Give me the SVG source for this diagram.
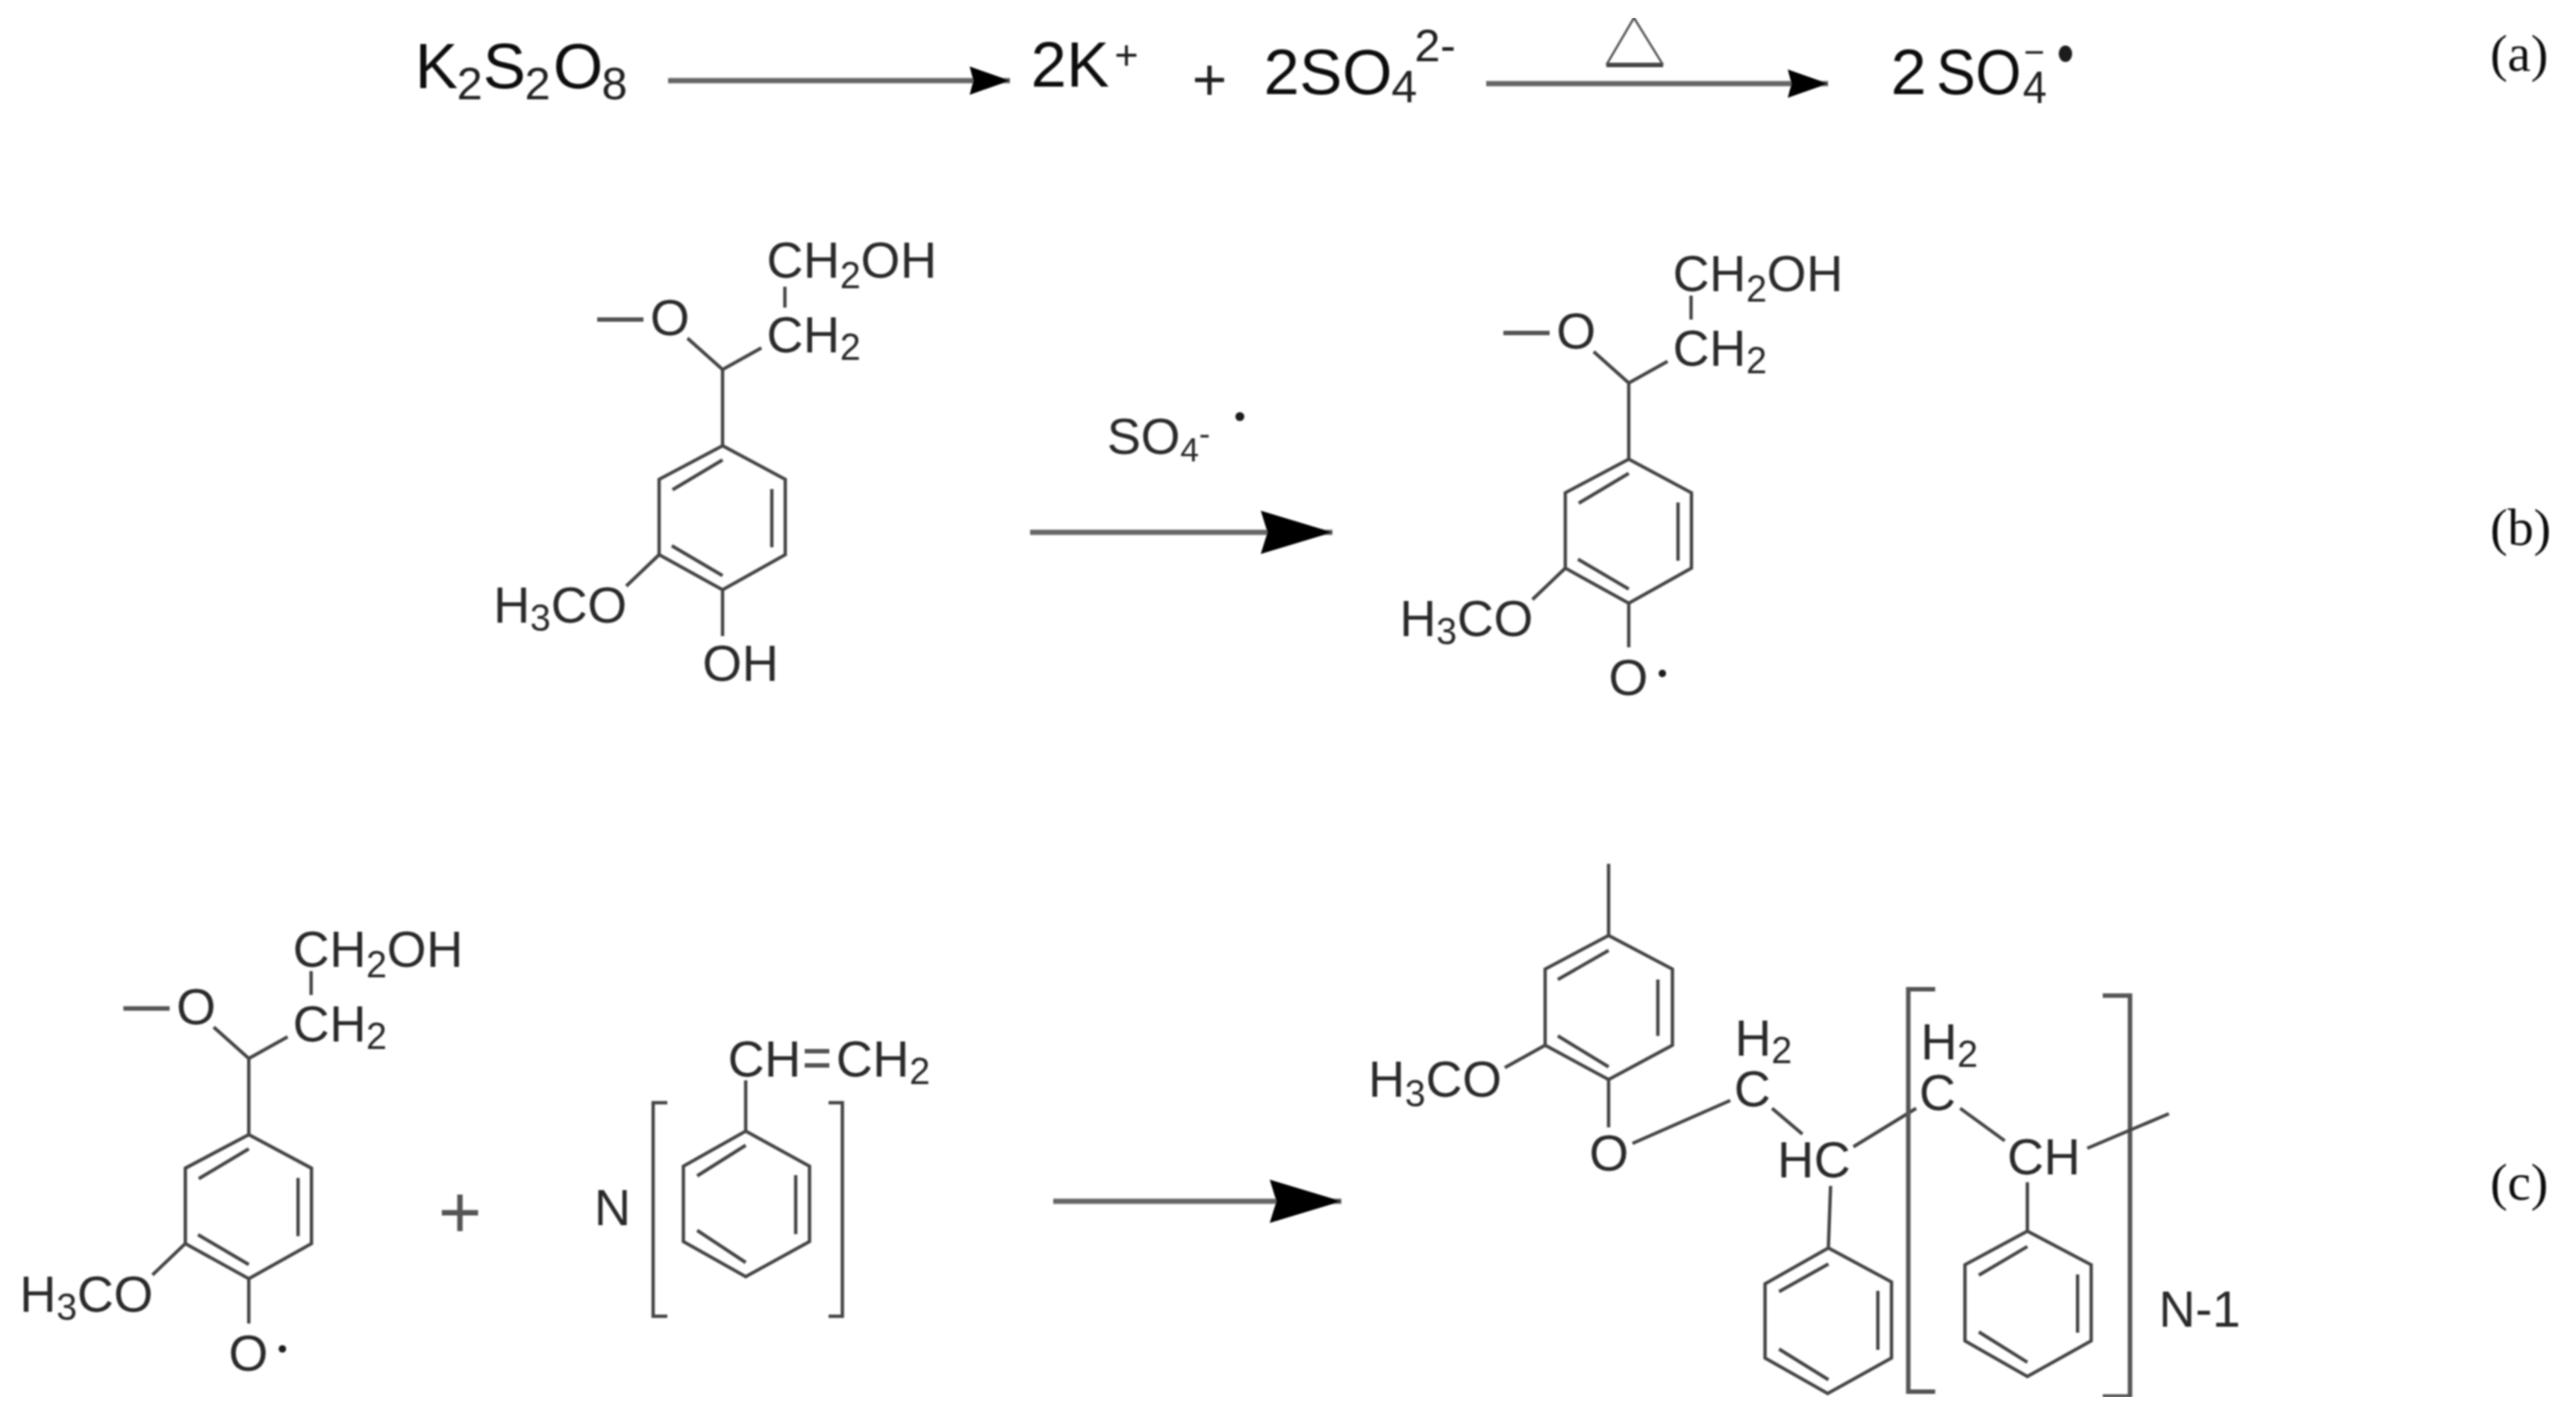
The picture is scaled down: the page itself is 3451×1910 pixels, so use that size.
<svg xmlns="http://www.w3.org/2000/svg" width="3451" height="1910" viewBox="0 0 3451 1910">
<style>
text{font-family:"Liberation Sans",Arial,sans-serif;fill:#2a2a2a}
.f{font-size:68px}.s{font-size:50px}.a{font-size:86px;fill:#111}.as{font-size:62px;fill:#222}
.t{font-family:"Liberation Serif","Times New Roman",serif;font-size:70px;fill:#111}
.b{fill:none;stroke:#444;stroke-width:4.500;stroke-linecap:butt;stroke-linejoin:miter}
.bt{fill:none;stroke:#555;stroke-width:6}
.ar{fill:none;stroke:#666;stroke-width:7}
.d{fill:#1a1a1a}
#all{filter:url(#soft)}
</style>
<defs>
<filter id="soft" x="0" y="0" width="100%" height="100%"><feGaussianBlur stdDeviation="1"/></filter>
<marker id="h1" markerUnits="userSpaceOnUse" markerWidth="60" markerHeight="40" refX="54" refY="19" orient="auto"><path d="M0 0L54 19L0 38L5 19Z" fill="#000"/></marker>
<marker id="h2" markerUnits="userSpaceOnUse" markerWidth="110" markerHeight="62" refX="96" refY="29" orient="auto"><path d="M0 0L96 29L0 58L9 29Z" fill="#000"/></marker>
</defs>
<rect width="3451" height="1910" fill="#fff"/>
<g id="all">
<g id="connectors">
<path class="ar" d="M895 108H1353" marker-end="url(#h1)"/>
<path class="ar" d="M1991 112H2449" marker-end="url(#h1)"/>
<path class="ar" d="M1380 713H1785" marker-end="url(#h2)"/>
<path class="ar" d="M1411 1609H1797" marker-end="url(#h2)"/>
</g>

<g id="persulfate"><text class="a" y="118"><tspan x="556">K</tspan><tspan class="as" x="612" y="133">2</tspan><tspan x="647" y="118">S</tspan><tspan class="as" x="703" y="133">2</tspan><tspan x="741" y="118">O</tspan><tspan class="as" x="806" y="133">8</tspan></text></g>
<g id="potassium-ion"><text class="a" y="116"><tspan x="1381">2K</tspan></text><text x="1493" y="93" style="font-size:55px;fill:#222">+</text></g>
<g id="plus-a"><text x="1597" y="134" style="font-size:80px;fill:#222">+</text></g>
<g id="sulfate-ion"><text class="a" y="126"><tspan x="1693">2SO</tspan><tspan class="as" x="1864" y="137">4</tspan><tspan class="as" x="1895" y="82">2-</tspan></text></g>
<g id="heat"><path d="M2152 87H2228" fill="none" stroke="#444" stroke-width="6"/><path d="M2152 87L2189 24L2228 87" fill="none" stroke="#555" stroke-width="3"/></g>
<g id="sulfate-radical"><text class="a" x="2533" y="126">2</text><text class="a" x="2594" y="126" textLength="114" lengthAdjust="spacingAndGlyphs">SO</text><text class="as" x="2710" y="138" textLength="32" lengthAdjust="spacingAndGlyphs">4</text><text x="2711" y="86" style="font-size:48px;fill:#222">−</text><ellipse class="d" cx="2767" cy="72" rx="9" ry="11"/></g>
<g id="label-a"><text class="t" x="3336" y="95">(a)</text></g>

<g id="guaiacyl-b">
<path class="b" d="M968 495V597M968 597L1052 642V743L968 790L883 743V642ZM901 656L968 616M1034 655V733M900 731L968 771M883 743L839 785M968 790V852M921 453L968 495L1020 466"/>
<path class="bt" d="M800 428H862"/><path class="b" d="M1051.500 384V412"/>
<text class="f" x="1027" y="372">CH<tspan class="s" y="386">2</tspan><tspan y="372">OH</tspan></text>
<text class="f" x="1027" y="472">CH<tspan class="s" y="482">2</tspan></text>
<text class="f" x="871" y="449">O</text>
<text class="f" x="661" y="834">H<tspan class="s" y="845">3</tspan><tspan y="834">CO</tspan></text>
<text class="f" x="941" y="912">OH</text>
</g>

<g id="so4-reagent"><text class="f" x="1483" y="608">SO<tspan style="font-size:45px" y="618">4</tspan><tspan style="font-size:45px" y="596">-</tspan></text><circle class="d" cx="1661" cy="558" r="6"/></g>

<g id="guaiacyl-radical-b" transform="translate(1214,18)">
<path class="b" d="M968 495V597M968 597L1052 642V743L968 790L883 743V642ZM901 656L968 616M1034 655V733M900 731L968 771M883 743L839 785M968 790V849M921 453L968 495L1020 466"/>
<path class="bt" d="M800 428H862"/><path class="b" d="M1051.500 378V410"/>
<text class="f" x="1027" y="372">CH<tspan class="s" y="386">2</tspan><tspan y="372">OH</tspan></text>
<text class="f" x="1027" y="472">CH<tspan class="s" y="482">2</tspan></text>
<text class="f" x="871" y="449">O</text>
<text class="f" x="661" y="834">H<tspan class="s" y="845">3</tspan><tspan y="834">CO</tspan></text>
<text class="f" x="941" y="913">O</text><circle class="d" cx="1013" cy="884" r="5"/>
</g>
<g id="label-b"><text class="t" x="3336" y="730">(b)</text></g>

<g id="guaiacyl-radical-c" transform="translate(-634.700,922.700)">
<path class="b" d="M968 495V597M968 597L1052 642V743L968 790L883 743V642ZM901 656L968 616M1034 655V733M900 731L968 771M883 743L839 785M968 790V850M921 453L968 495L1020 466"/>
<path class="bt" d="M800 428H862"/><path class="b" d="M1051.500 378V410"/>
<text class="f" x="1027" y="372">CH<tspan class="s" y="386">2</tspan><tspan y="372">OH</tspan></text>
<text class="f" x="1027" y="472">CH<tspan class="s" y="482">2</tspan></text>
<text class="f" x="871" y="449">O</text>
<text class="f" x="661" y="834">H<tspan class="s" y="845">3</tspan><tspan y="834">CO</tspan></text>
<text class="f" x="941" y="913">O</text><circle class="d" cx="1013" cy="884" r="5"/>
</g>
<g id="plus-c"><text x="587" y="1658" style="font-size:100px;fill:#555">+</text></g>

<g id="styrene">
<text class="f" x="796" y="1641">N</text>
<path class="b" d="M894 1477H875V1763H894M1110 1477H1128.500V1763H1110"/>
<path class="b" d="M999 1447V1515M999 1515L1084.500 1562V1663L999 1710L915.500 1663V1562ZM934 1575L999 1534M1066 1574V1653M934 1648L999 1691"/>
<text class="f" x="975" y="1442">CH</text>
<path class="bt" d="M1078 1408H1111M1078 1427H1111"/>
<text class="f" x="1120" y="1442">CH<tspan class="s" y="1452">2</tspan></text>
</g>

<g id="product">
<path class="b" d="M2155 1157V1253M2155 1253L2240.500 1298V1400L2155 1446L2070 1400V1298ZM2087 1312L2155 1273M2221 1312V1387.500M2087 1387.500L2155 1429M2070 1400L2016 1430M2155 1446V1510M2187 1531.500L2318 1474M2374 1484.500L2414.600 1519"/>
<text class="f" x="1833" y="1469">H<tspan class="s" y="1482">3</tspan><tspan y="1469">CO</tspan></text>
<text class="f" x="2129" y="1568">O</text>
<text class="f" x="2324" y="1414">H<tspan class="s" y="1424">2</tspan></text>
<text class="f" x="2323" y="1482">C</text>
<text class="f" x="2381" y="1577">HC</text>
<path class="b" d="M2483 1536L2567 1484.500M2452.400 1588.500L2449.400 1671.600M2449.400 1671.600L2534 1717V1819L2448.500 1866.500L2364.600 1819V1719.600ZM2383.400 1730L2449.500 1693M2515.700 1729V1808M2383.400 1807L2449.500 1848"/>
<path class="bt" d="M2592.500 1325H2556.500V1864H2592.500M2817 1333.500H2853.500V1870.500H2817"/>
<text class="f" x="2573" y="1418.500">H<tspan class="s" y="1429">2</tspan></text>
<text class="f" x="2571" y="1486.500">C</text>
<path class="b" d="M2626 1484.500L2685.700 1528M2796.300 1538L2905.600 1491.700M2716 1583.400V1649M2716 1649L2801.500 1694V1796L2716 1843.600L2632.400 1796V1694ZM2651 1708L2716 1669.600M2783.300 1707V1785M2651 1784L2716 1824.600"/>
<text class="f" x="2689" y="1572.700">CH</text>
<text class="f" x="2892" y="1777">N-1</text>
</g>
<g id="label-c"><text class="t" x="3336" y="1607">(c)</text></g>
</g>
</svg>
